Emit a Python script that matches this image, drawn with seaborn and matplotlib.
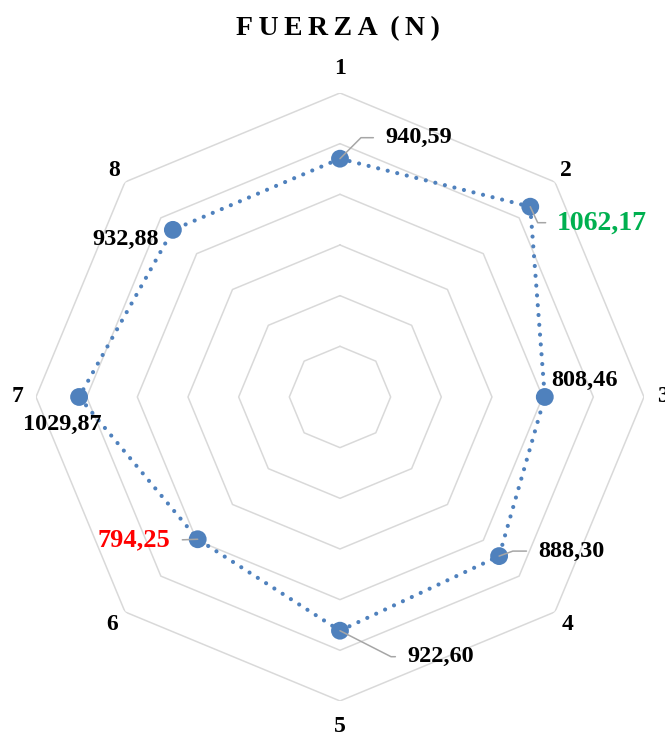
import numpy as np
import pandas as pd
import matplotlib
matplotlib.use('Agg')
import matplotlib.pyplot as plt
import seaborn as sns

# data
categories = ['1', '2', '3', '4', '5', '6', '7', '8']
fuerza = [940.59, 1062.17, 808.46, 888.30, 922.60, 794.25, 1029.87, 932.88]
rings = [200, 400, 600, 800, 1000, 1200]
label_colors = ['black', '#00B050', 'black', 'black', 'black', '#FF0000', 'black', 'black']

sns.set_style('white')
plt.rcParams['font.family'] = ['Liberation Serif', 'DejaVu Serif']
plt.rcParams['font.weight'] = 'bold'
plt.rcParams['text.color'] = 'black'
plt.rcParams['xtick.color'] = 'black'

blue = '#4F81BD'
theta = np.arange(len(categories)) * 2 * np.pi / len(categories)
df = pd.DataFrame({'theta': np.append(theta, 2 * np.pi), 'fuerza': fuerza + fuerza[:1]})

fig = plt.figure(figsize=(6.65, 7.35), dpi=100)
ax = fig.add_axes([0.0541, 0.0463, 0.9143, 0.8272], projection='polar')
ax.set_theta_zero_location('N')
ax.set_theta_direction(-1)

# octagon grid
oct_theta = np.append(theta, 2 * np.pi)
for r in rings:
    ax.plot(oct_theta, [r] * len(oct_theta), color='#d9d9d9', lw=1.1, zorder=0)

sns.lineplot(x='theta', y='fuerza', data=df, sort=False, estimator=None, ax=ax,
             color=blue, lw=3.0, linestyle=(0, (0.01, 2.35)),
             dash_capstyle='round', zorder=2)
sns.scatterplot(x='theta', y='fuerza', data=df.iloc[:-1], ax=ax, s=165,
                color=blue, edgecolor='none', zorder=3, legend=False)

ax.set_ylim(0, 1200)
ax.set_yticks([])
ax.set_xticks([])
ax.grid(False)
ax.spines['polar'].set_visible(False)
ax.set_xlabel('')
ax.set_ylabel('')

# category labels just outside the outer ring (radius as fraction of the ring)
cat_rad = [1.082, 1.053, 1.062, 1.059, 1.085, 1.059, 1.062, 1.053]
for t, lab, f in zip(theta, categories, cat_rad):
    ax.text(t, rings[-1] * f, lab, ha='center', va='center', fontsize=17,
            fontweight='bold', color='black', clip_on=False)

# data labels: (offset px, ha, leader style)
offsets = [(45, 21), (27, -16), (6, 17), (39, 5), (67, -26), (-27, -1), (-17, -27), (-14, -10)]
aligns = ['left', 'left', 'left', 'left', 'left', 'right', 'center', 'right']
leaders = [45, -65, None, 20, -27, 0, None, None]
sizes = [17.5, 20, 17.5, 17.5, 17.5, 19, 17.5, 17.5]

for i, v in enumerate(fuerza):
    txt = f'{v:.2f}'.replace('.', ',')
    kw = {}
    if leaders[i] is not None:
        if leaders[i] == 0:
            cs = 'arc3'
        else:
            cs = f'angle,angleA=0,angleB={leaders[i]},rad=0'
        kw['arrowprops'] = dict(arrowstyle='-', color='#a6a6a6', lw=1.1,
                                connectionstyle=cs, shrinkA=6, shrinkB=0,
                                relpos=(0, 0.5) if aligns[i] == 'left' else (1, 0.5))
    ax.annotate(txt, xy=(theta[i], v), xytext=offsets[i], textcoords='offset pixels',
                ha=aligns[i], va='center', fontsize=sizes[i], fontweight='bold',
                color=label_colors[i], zorder=4, **kw)

fig.text(337.5 / 665, 1 - 29 / 735, 'F\u2009U\u2009E\u2009R\u2009Z\u2009A\u2009 (\u2009N\u2009)',
         ha='center', va='center', fontsize=20, fontweight='bold', color='black')

fig.savefig('out.png', dpi=100)
